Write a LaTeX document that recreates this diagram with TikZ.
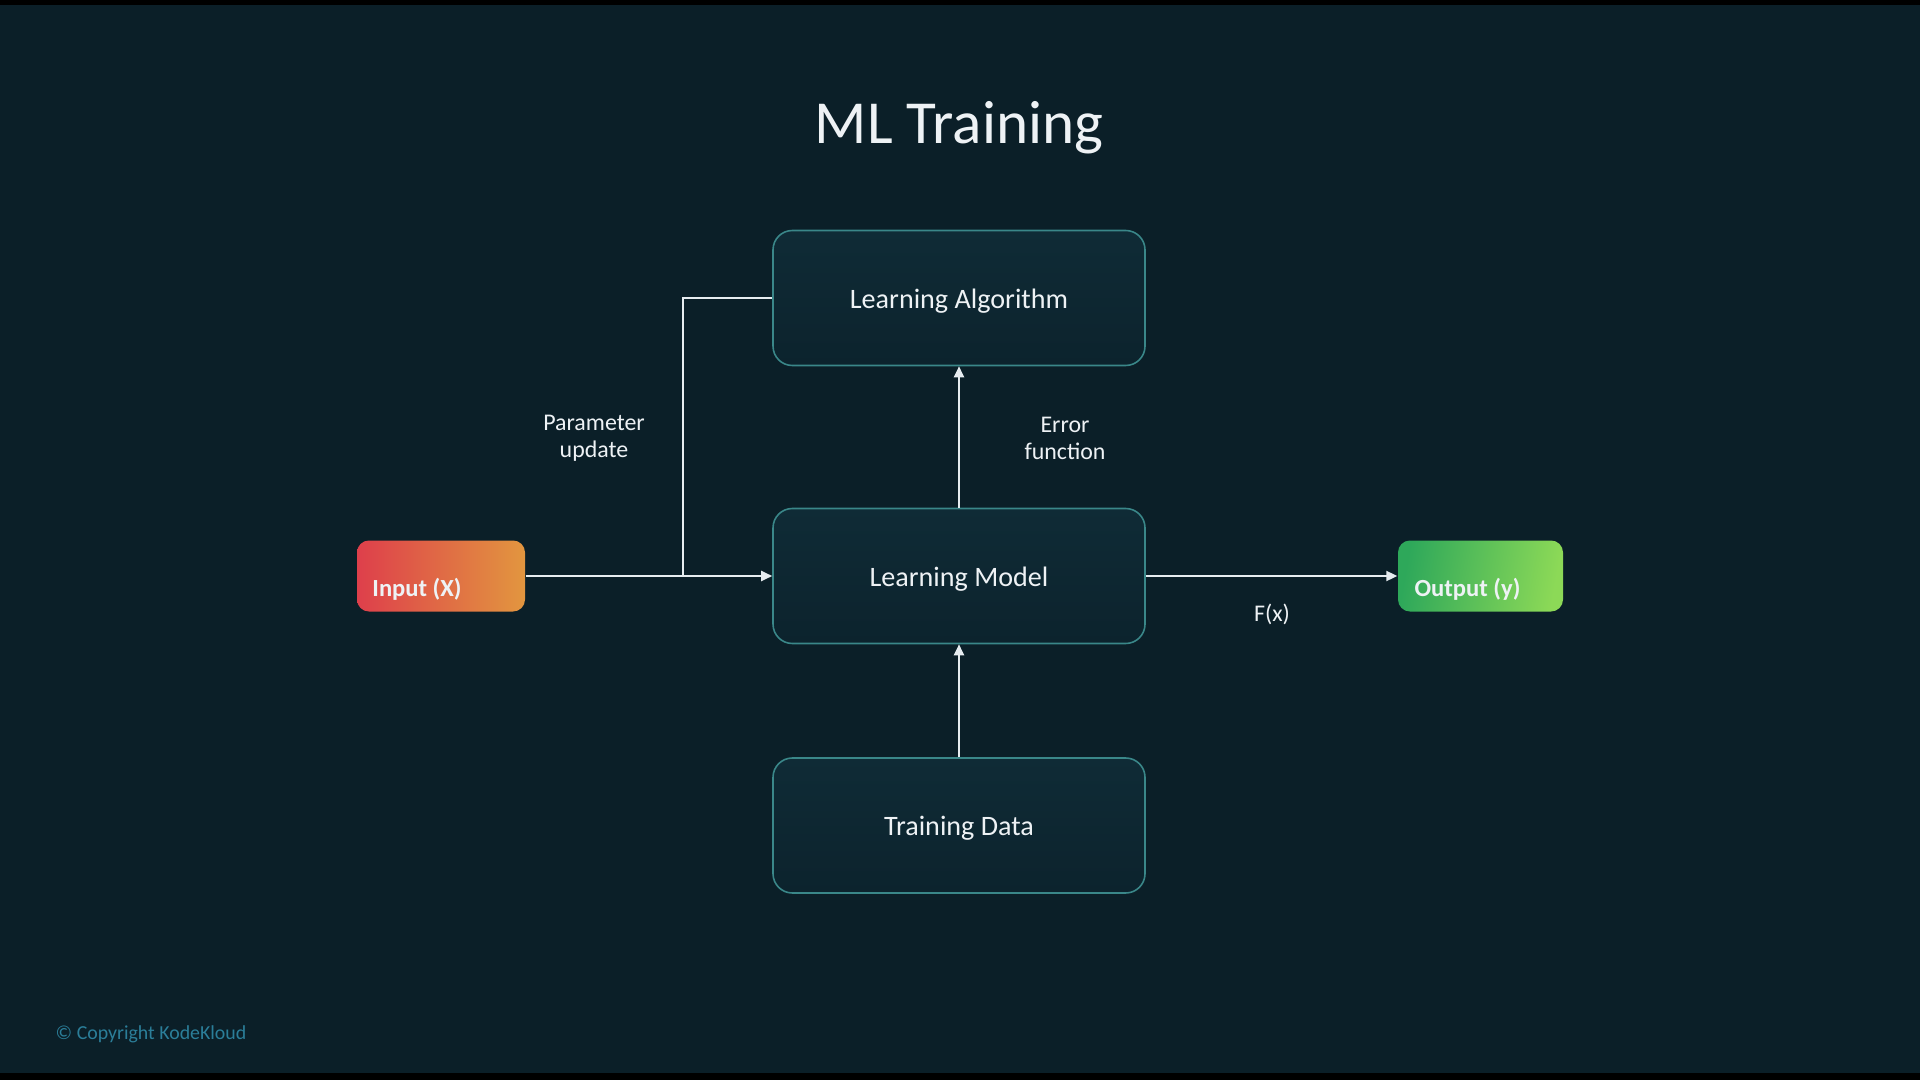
\documentclass[tikz,border=0pt]{standalone}
\usepackage{fontspec}
\setmainfont{Carlito}
\usetikzlibrary{arrows.meta}

\definecolor{bgdark}{HTML}{0B1F28}
\definecolor{boxtop}{HTML}{0F2B36}
\definecolor{boxbottom}{HTML}{0C232D}
\definecolor{boxedge}{HTML}{3A8789}
\definecolor{linecol}{HTML}{E6ECF0}
\definecolor{textcol}{HTML}{EEF2F5}
\definecolor{inred}{HTML}{DE3F4B}
\definecolor{inorange}{HTML}{E2963F}
\definecolor{outgreen}{HTML}{2EA85A}
\definecolor{outlime}{HTML}{8CD957}
\definecolor{copyblue}{HTML}{2B7E99}

\begin{document}
\begin{tikzpicture}[
		stage/.style={draw=boxedge, line width=0.45pt, rounded corners=5.5pt,
			top color=boxtop, bottom color=boxbottom,
			minimum width=3.72cm, minimum height=1.35cm,
			text height=5.7pt, text depth=0pt,
			text=textcol, font=\fontsize{8}{9.6}\selectfont},
		tag/.style={rounded corners=3.4pt, minimum height=0.71cm},
		tagtext/.style={text=textcol, font=\bfseries\fontsize{7}{8.4}\selectfont, yshift=-0.135cm},
		note/.style={align=center, text=textcol,
			font=\fontsize{6.8}{7.7}\selectfont},
		wire/.style={draw=linecol, line width=0.57pt},
		flow/.style={wire, -{Triangle[length=0.11cm, width=0.1cm]}}
	]
		% Background
		\useasboundingbox (0, 0) rectangle (19.2, -10.8);
		\fill[bgdark] (0, 0) rectangle (19.2, -10.8);
		\fill[black] (0, 0) rectangle (19.2, -0.05);
		\fill[black] (0, -10.73) rectangle (19.2, -10.8);
		
		% Title
		\node[text=textcol, font=\fontsize{17.4}{20}\selectfont] (title) at (9.59, -1.28) {ML Training};
		
		% Stages
		\node[stage] (algo) at (9.59, -2.98) {Learning Algorithm};
		\node[stage] (model) at (9.59, -5.76) {Learning Model};
		\node[stage] (data) at (9.59, -8.255) {Training Data};
		
		% Input and output
		\node[tag, minimum width=1.68cm, left color=inred, right color=inorange,
			label={[tagtext, xshift=-0.24cm]center:Input (X)}] (input) at (4.41, -5.76) {};
		\node[tag, minimum width=1.65cm, shading=axis, left color=outgreen, right color=outlime, shading angle=80,
			label={[tagtext, xshift=-0.13cm]center:Output (y)}] (output) at (14.805, -5.76) {};
		
		% Connections
		\coordinate (branch) at (6.83, -5.76);
		\draw[flow] (input) -- (model);
		\draw[wire] (algo.west) -| (branch);
		\draw[flow] (model) -- (algo);
		\draw[flow] (data) -- (model);
		\draw[flow] (model) -- (output);
		
		% Labels
		\node[note] (update) at (5.94, -4.38) {Parameter\\update};
		\node[note] (error) at (10.65, -4.38) {Error\\function};
		\node[note] (fx) at (12.72, -6.14) {F(x)};
		
		% Footer
		\node[anchor=west, inner sep=0pt, text=copyblue, font=\fontsize{5.65}{7}\selectfont] (copy) at (0.55, -10.345) {\textcopyright{} Copyright KodeKloud};
	\end{tikzpicture}
\end{document}
